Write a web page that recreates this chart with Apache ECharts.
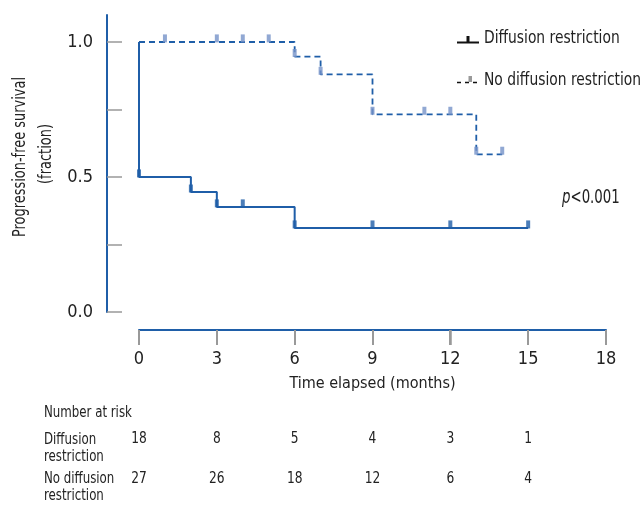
<!DOCTYPE html>
<html>
<head>
<meta charset="utf-8">
<script src="https://cdn.jsdelivr.net/npm/echarts@6/dist/echarts.min.js"></script>
<style>html,body{margin:0;padding:0;background:#fff}#c{width:644px;height:506px}</style>
</head>
<body>
<div id="c"></div>
<script>
// ---- data ----
var diffSteps = [[0,1],[0,0.5],[2,0.444],[3,0.389],[6,0.311],[15,0.311]];
var noDiffSteps = [[0,1],[6,0.946],[7,0.880],[9,0.732],[13,0.584],[14,0.584]];
var diffCensorX = [0,2,3,4,6,9,12,15];
var diffCensorY = [0.5,0.444,0.389,0.389,0.311,0.311,0.311,0.311];
var noDiffCensorX = [1,3,4,5,6,7,9,11,12,13,14];
var noDiffCensorY = [1,1,1,1,0.946,0.880,0.732,0.732,0.732,0.584,0.584];
var riskTimes = [0,3,6,9,12,15];
var riskDiff = [18,8,5,4,3,1];
var riskNoDiff = [27,26,18,12,6,4];
var xTicks = [0,3,6,9,12,15,18];
var yTicks = [0,0.25,0.5,0.75,1];
var yLabels = [0,0.5,1];

var FONT = '"Liberation Sans Narrow","DejaVu Sans Condensed",Roboto,sans-serif';
var TXT = '#222';
var LINE = '#1f5ea8';
var CENS2 = '#7592c8';

var chart = echarts.init(document.getElementById('c'), null, {renderer:'canvas'});
function pairs(xs, ys){ return xs.map(function(x,i){return [x, ys[i]];}); }

var option = {
  animation: false,
  textStyle: {fontFamily: FONT},
  grid: [
    {left:139, right:38, top:15, bottom:194},
    {left:139, right:38, top:330, height:15}
  ],
  xAxis: [
    {gridIndex:0, type:'value', min:0, max:18, interval:3, show:false},
    {gridIndex:1, type:'value', min:0, max:18, interval:3, position:'top',
      axisLine:{show:true, onZero:false, lineStyle:{color:LINE, width:2}},
      axisTick:{show:true, inside:true, length:15, lineStyle:{color:'#999', width:1.5}},
      axisLabel:{show:false}, splitLine:{show:false}, z:3},
    {gridIndex:1, type:'value', min:0, max:18, interval:3, position:'bottom',
      name:'Time elapsed (months)', nameLocation:'middle', nameGap:31,
      nameTextStyle:{fontFamily:FONT, fontSize:16, color:TXT},
      axisLine:{show:false, onZero:false}, axisTick:{show:false},
      axisLabel:{show:true, margin:5, fontFamily:FONT, fontSize:18, color:TXT},
      splitLine:{show:false}}
  ],
  yAxis: [
    {gridIndex:0, type:'value', min:0, max:1.1, offset:32,
      axisLine:{show:true, onZero:false, lineStyle:{color:LINE, width:2}},
      axisTick:{show:true, inside:true, length:15, customValues:yTicks, lineStyle:{color:'#999', width:1.5}},
      axisLabel:{margin:14, fontFamily:FONT, fontSize:18, color:TXT, customValues:yLabels,
        formatter:function(v){return v.toFixed(1);}},
      splitLine:{show:false}},
    {gridIndex:1, type:'value', min:0, max:1, show:false}
  ],
  series: [
    {name:'Diffusion restriction', type:'line', step:'end', data:diffSteps, symbol:'none',
      lineStyle:{color:LINE, width:2}, z:3},
    {name:'No diffusion restriction', type:'line', step:'end', data:noDiffSteps, symbol:'none',
      lineStyle:{color:LINE, width:1.8, type:[6,4]}, z:2},
    {type:'scatter', data:pairs(diffCensorX, diffCensorY), symbol:'rect', symbolSize:[4,8],
      symbolOffset:[0,'-45%'], itemStyle:{color:LINE}, z:4},
    {type:'scatter', data:pairs(noDiffCensorX, noDiffCensorY), symbol:'rect', symbolSize:[4,8],
      symbolOffset:[0,'-45%'], itemStyle:{color:CENS2}, z:4}
  ]
};
chart.setOption(option);

function txt(x, y, s, size, sx, extra){
  var o = {type:'text', x:x, y:y, scaleX:sx, style:{text:s, font:size+'px '+FONT, fill:TXT, verticalAlign:'middle'}};
  if (extra) for (var k in extra) o.style[k] = extra[k];
  return o;
}
var g = [];
// x-axis tick marks hanging below the axis line, placed by the axis scale
var axisY = chart.convertToPixel({yAxisIndex:1}, 1);
xTicks.forEach(function(t){
  var px = Math.round(chart.convertToPixel({xAxisIndex:1}, t));
  g.push({type:'rect', z:100, shape:{x:px-1, y:axisY, width:2, height:15}, style:{fill:'#999'}});
});
// y axis title
var t1 = txt(20, 157, 'Progression-free survival', 18, 0.8, {align:'center'}); t1.rotation = Math.PI/2; g.push(t1);
var t2 = txt(46, 154, '(fraction)', 18, 0.8, {align:'center'}); t2.rotation = Math.PI/2; g.push(t2);
// legend
g.push({type:'line', shape:{x1:457,y1:42.5,x2:479,y2:42.5}, style:{stroke:'#111', lineWidth:2}});
g.push({type:'rect', shape:{x:466.5,y:36,width:3,height:6}, style:{fill:'#111'}});
g.push(txt(484, 38.5, 'Diffusion restriction', 18, 0.855));
g.push({type:'line', shape:{x1:457,y1:82.5,x2:480,y2:82.5}, style:{stroke:'#111', lineWidth:1.6, lineDash:[4,4]}});
g.push({type:'rect', shape:{x:468.5,y:76,width:3.5,height:6}, style:{fill:'#999'}});
g.push(txt(484, 80, 'No diffusion restriction', 18, 0.855));
// p value
g.push(txt(562, 198, '{i|p}<0.001', 19, 0.78, {rich:{i:{fontStyle:'italic', fontSize:19, fontFamily:FONT, fill:TXT}}}));
// number at risk
g.push(txt(44, 413, 'Number at risk', 16, 0.82));
g.push(txt(44, 448, 'Diffusion\nrestriction', 16, 0.82, {lineHeight:17}));
g.push(txt(44, 487, 'No diffusion\nrestriction', 16, 0.82, {lineHeight:17}));
riskTimes.forEach(function(t,i){
  var px = chart.convertToPixel({xAxisIndex:2}, t);
  g.push(txt(px, 439, String(riskDiff[i]), 16, 0.85, {align:'center'}));
  g.push(txt(px, 479, String(riskNoDiff[i]), 16, 0.85, {align:'center'}));
});
chart.setOption({graphic:g});
</script>
</body>
</html>
